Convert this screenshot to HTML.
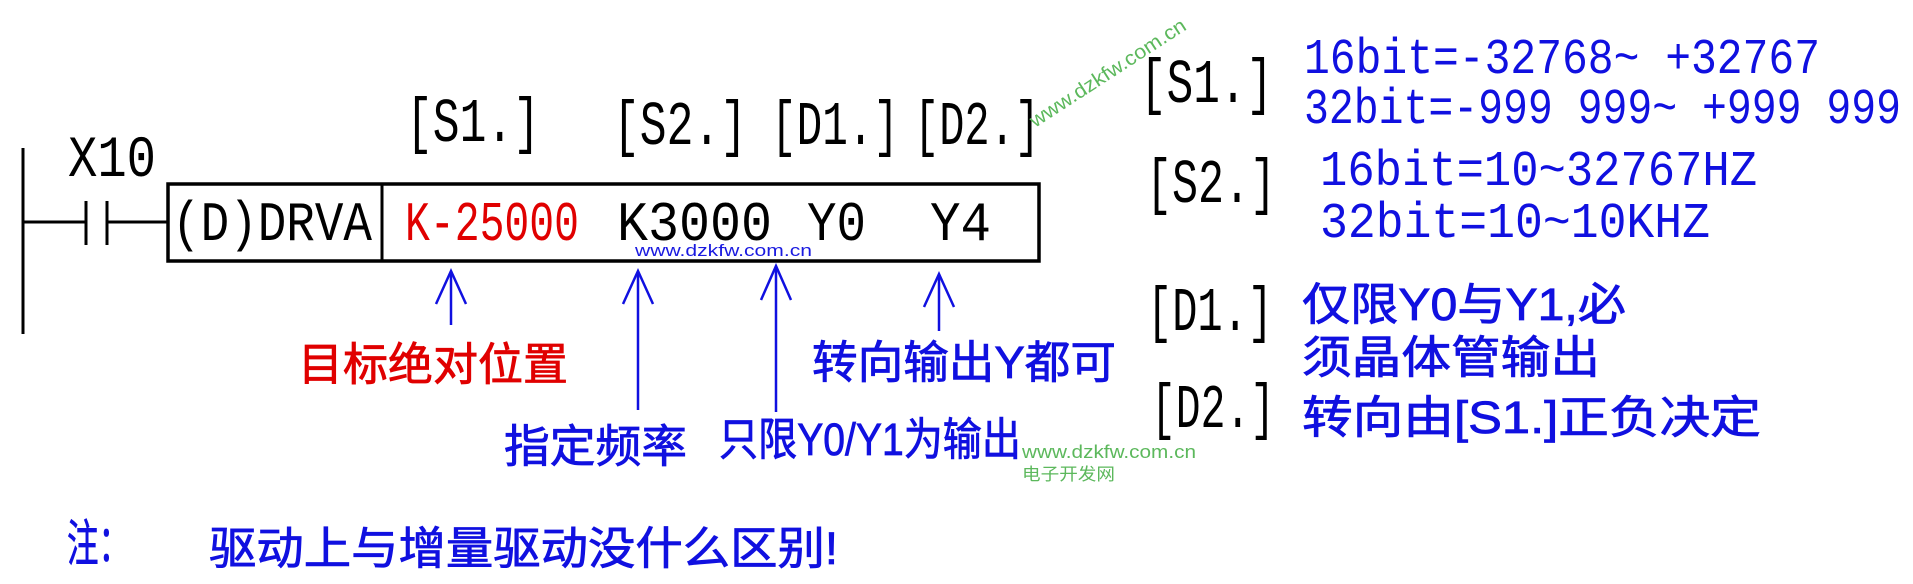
<!DOCTYPE html>
<html><head><meta charset="utf-8"><style>
html,body{margin:0;padding:0;background:#fff;}
svg{display:block;}
.m{font-family:"Liberation Mono","Noto Sans CJK SC",monospace;}
.c{font-family:"Liberation Sans","Noto Sans CJK SC",sans-serif;}
</style></head><body>
<svg width="1913" height="584" viewBox="0 0 1913 584" xmlns="http://www.w3.org/2000/svg">
<g stroke="#000" stroke-width="3" fill="none">
<line x1="23" y1="148" x2="23" y2="334"/>
<line x1="23" y1="222" x2="85" y2="222"/>
<line x1="86" y1="201" x2="86" y2="245"/>
<line x1="107" y1="201" x2="107" y2="245"/>
<line x1="107" y1="222" x2="167" y2="222"/>
<rect x="168" y="184" width="871" height="77" stroke-width="3.5"/>
<line x1="382" y1="184" x2="382" y2="261"/>
</g>
<g class="m" fill="#000">
<text x="68" y="176" font-size="58" textLength="88" lengthAdjust="spacingAndGlyphs">X10</text>
<text x="172" y="240" font-size="56" textLength="200" lengthAdjust="spacingAndGlyphs">(D)DRVA</text>
<text x="617" y="240" font-size="56" textLength="155" lengthAdjust="spacingAndGlyphs">K3000</text>
<text x="807" y="240" font-size="56" textLength="59" lengthAdjust="spacingAndGlyphs">Y0</text>
<text x="930" y="240" font-size="56" textLength="61" lengthAdjust="spacingAndGlyphs">Y4</text>
</g>
<g class="m" fill="#000" font-size="62">
<text x="406" y="141" textLength="134" lengthAdjust="spacingAndGlyphs">[S1.]</text>
<text x="613" y="144" textLength="134" lengthAdjust="spacingAndGlyphs">[S2.]</text>
<text x="771" y="144" textLength="128" lengthAdjust="spacingAndGlyphs">[D1.]</text>
<text x="914" y="144" textLength="126" lengthAdjust="spacingAndGlyphs">[D2.]</text>
<text x="1140" y="102" textLength="133" lengthAdjust="spacingAndGlyphs">[S1.]</text>
<text x="1146" y="202" textLength="130" lengthAdjust="spacingAndGlyphs">[S2.]</text>
<text x="1147" y="330" textLength="126" lengthAdjust="spacingAndGlyphs">[D1.]</text>
<text x="1151" y="427" textLength="124" lengthAdjust="spacingAndGlyphs">[D2.]</text>
</g>
<text class="m" x="405" y="240" font-size="56" fill="#e00000" textLength="174" lengthAdjust="spacingAndGlyphs">K-25000</text>
<text class="c" x="635" y="256" font-size="17" fill="#1a1ae0" textLength="177" lengthAdjust="spacingAndGlyphs">www.dzkfw.com.cn</text>
<g stroke="#1010e0" stroke-width="2.5" fill="none">
<line x1="451" y1="271" x2="451" y2="325"/><polyline points="436,304 451,271 466,304"/>
<line x1="638" y1="271" x2="638" y2="410"/><polyline points="623,304 638,271 653,304"/>
<line x1="776" y1="266" x2="776" y2="412"/><polyline points="761,300 776,266 791,300"/>
<line x1="939" y1="274" x2="939" y2="331"/><polyline points="924,307 939,274 954,307"/>
</g>
<g class="c" font-size="45" stroke-width="0.8">
<text x="298" y="380" fill="#e00000" stroke="#e00000" textLength="270" lengthAdjust="spacingAndGlyphs">目标绝对位置</text>
<g fill="#1010e0" stroke="#1010e0">
<text x="812" y="378" textLength="304" lengthAdjust="spacingAndGlyphs">转向输出Y都可</text>
<text x="504" y="462" textLength="183" lengthAdjust="spacingAndGlyphs">指定频率</text>
<text x="719" y="455" textLength="302" lengthAdjust="spacingAndGlyphs">只限Y0/Y1为输出</text>
<text x="1302" y="320" textLength="324" lengthAdjust="spacingAndGlyphs">仅限Y0与Y1,必</text>
<text x="1302" y="373" textLength="298" lengthAdjust="spacingAndGlyphs">须晶体管输出</text>
<text x="1302" y="433" textLength="459" lengthAdjust="spacingAndGlyphs">转向由[S1.]正负决定</text>
<text x="67" y="561" font-size="50" textLength="63" lengthAdjust="spacingAndGlyphs">注：</text>
<text x="209" y="564" textLength="629" lengthAdjust="spacingAndGlyphs">驱动上与增量驱动没什么区别!</text>
</g>
</g>
<g class="m" fill="#1010e0" font-size="50">
<text x="1304" y="73" textLength="516" lengthAdjust="spacingAndGlyphs">16bit=-32768~ +32767</text>
<text x="1304" y="123" textLength="597" lengthAdjust="spacingAndGlyphs">32bit=-999 999~ +999 999</text>
<text x="1320" y="185" textLength="437" lengthAdjust="spacingAndGlyphs">16bit=10~32767HZ</text>
<text x="1320" y="237" textLength="390" lengthAdjust="spacingAndGlyphs">32bit=10~10KHZ</text>
</g>
<g class="c" fill="#5cb85c">
<text transform="translate(1035,128) rotate(-33)" font-size="20" textLength="182" lengthAdjust="spacingAndGlyphs">www.dzkfw.com.cn</text>
<text x="1022" y="458" font-size="18" textLength="174" lengthAdjust="spacingAndGlyphs">www.dzkfw.com.cn</text>
<text x="1022" y="480" font-size="17" textLength="93" lengthAdjust="spacingAndGlyphs">电子开发网</text>
</g>
</svg>
</body></html>
